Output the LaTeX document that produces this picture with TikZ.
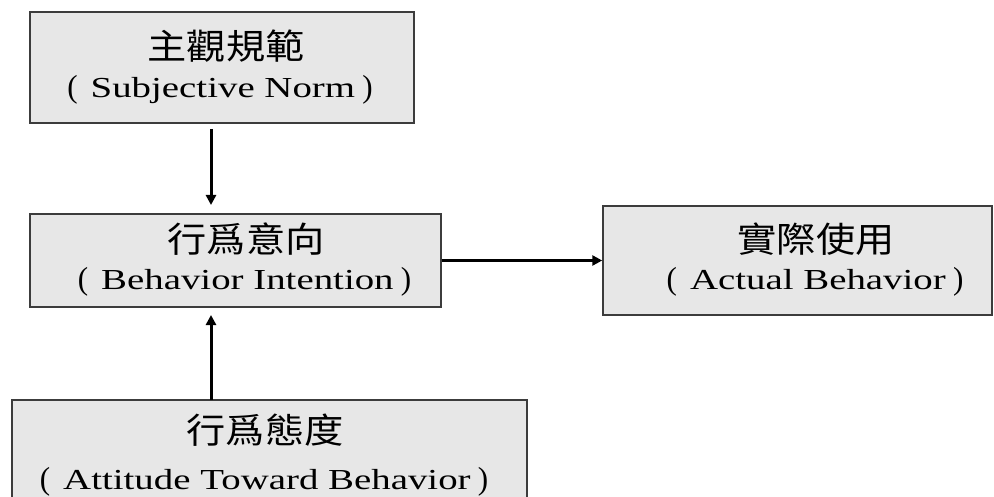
\documentclass[tikz,border=0pt]{standalone}
\usepackage{fontspec}
\setmainfont{Liberation Serif}[FakeStretch=1.34]
\newfontfamily\cjk{Noto Sans CJK TC}[FakeStretch=1.12]
\usetikzlibrary{arrows.meta}
\definecolor{boxfill}{HTML}{E7E7E7}
\definecolor{boxline}{HTML}{3C3C3C}
\tikzset{
  box/.style={draw=boxline, fill=boxfill, line width=1.5pt, inner sep=0pt},
  cjktext/.style={anchor=base, inner sep=0pt, font=\cjk\fontsize{35}{35}\selectfont},
  entext/.style={anchor=base, inner sep=0pt, font=\fontsize{29}{29}\selectfont},
  flow/.style={line width=3pt, -{Triangle[length=10pt,width=10pt]}}
}
\newcommand{\lp}{\scalebox{0.8}[1.1]{(}\hspace{0.45em}}
\newcommand{\rp}{\hspace{0.25em}\scalebox{0.8}[1.1]{)}}
\begin{document}
\begin{tikzpicture}[x=1pt,y=-1pt]
\useasboundingbox (0,0) rectangle (994,497);
\clip (0,0) rectangle (994,497);
% boxes
\node[box, minimum width=384pt, minimum height=111pt] (sn) at (222,67.5) {};
\node[box, minimum width=411pt, minimum height=93pt] (bi) at (235.5,260.5) {};
\node[box, minimum width=389pt, minimum height=109pt] (ab) at (797.5,260.5) {};
\node[box, minimum width=515pt, minimum height=120pt] (at) at (269.5,460) {};
% texts
\node[cjktext] (snc) at (226,60) {主觀規範};
\node[entext] (sne) at (220,98) {\lp Subjective Norm\rp};
\node[cjktext] (bic) at (246,253) {行爲意向};
\node[entext] (bie) at (244.5,290) {\lp Behavior Intention\rp};
\node[cjktext] (abc) at (816,253) {實際使用};
\node[entext] (abe) at (815,290) {\lp Actual Behavior\rp};
\node[cjktext] (atc) at (265,443) {行爲態度};
\node[entext] (ate) at (264,489) {\lp Attitude Toward Behavior\rp};
% connectors
\coordinate (a1s) at (211,123);
\coordinate (a1e) at (211,214);
\draw[flow, shorten <=6pt, shorten >=9pt] (a1s) -- (a1e);
\coordinate (a2s) at (211,400);
\coordinate (a2e) at (211,307);
\draw[flow, shorten >=8pt] (a2s) -- (a2e);
\draw[flow] (bi.east) -- (ab.west |- bi.east);
\end{tikzpicture}
\end{document}
